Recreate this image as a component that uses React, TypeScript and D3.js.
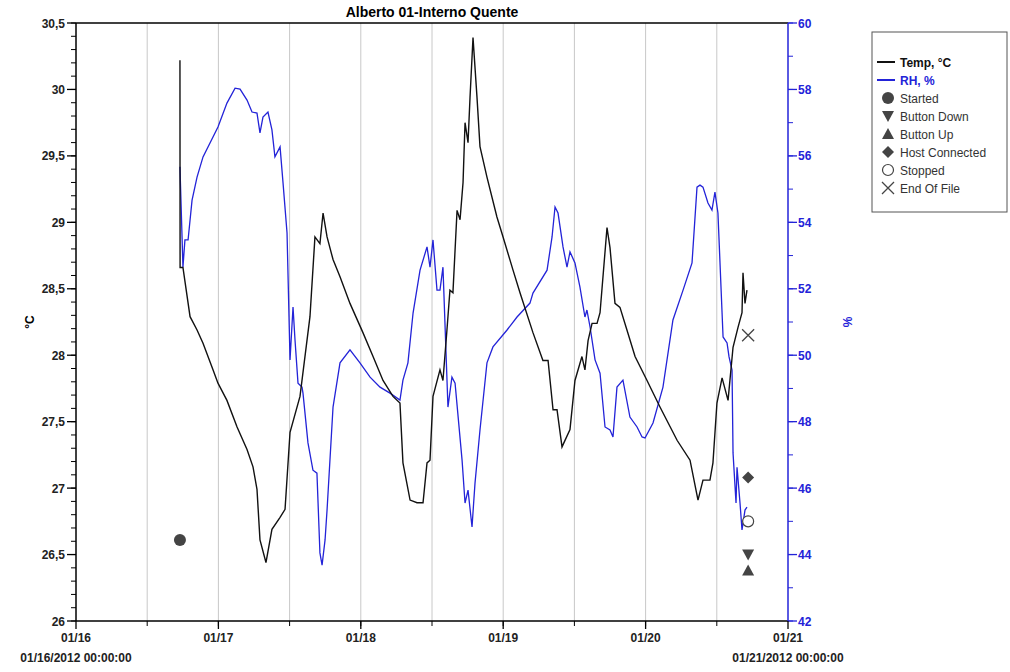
import React from "react";
import { scaleLinear, line, range } from "d3";

// time in days since 01/16/2012 00:00
const tempDays = [0.73, 0.731, 0.751, 0.801, 0.85, 0.892, 0.962, 0.997, 1.06, 1.131, 1.201, 1.243, 1.271, 1.292, 1.334, 1.376, 1.433, 1.468, 1.503, 1.573, 1.643, 1.678, 1.713, 1.735, 1.763, 1.805, 1.854, 1.924, 2.015, 2.086, 2.156, 2.226, 2.275, 2.296, 2.346, 2.395, 2.437, 2.465, 2.486, 2.507, 2.556, 2.577, 2.605, 2.626, 2.647, 2.676, 2.697, 2.718, 2.732, 2.753, 2.767, 2.788, 2.816, 2.837, 2.886, 2.956, 2.999, 3.069, 3.118, 3.209, 3.279, 3.315, 3.35, 3.378, 3.413, 3.469, 3.504, 3.553, 3.574, 3.596, 3.624, 3.659, 3.68, 3.729, 3.75, 3.785, 3.82, 3.869, 3.926, 4.01, 4.101, 4.221, 4.312, 4.368, 4.403, 4.452, 4.473, 4.501, 4.537, 4.579, 4.614, 4.649, 4.677, 4.684, 4.698, 4.712];
const tempValues = [30.22, 28.66, 28.66, 28.29, 28.19, 28.09, 27.89, 27.79, 27.66, 27.46, 27.29, 27.16, 26.99, 26.61, 26.44, 26.69, 26.78, 26.84, 27.42, 27.69, 28.29, 28.89, 28.84, 29.07, 28.89, 28.72, 28.59, 28.39, 28.17, 27.99, 27.81, 27.69, 27.64, 27.19, 26.91, 26.89, 26.89, 27.19, 27.21, 27.69, 27.89, 27.81, 28.19, 28.49, 28.47, 29.09, 29.02, 29.3, 29.75, 29.6, 29.94, 30.39, 29.94, 29.57, 29.34, 29.04, 28.89, 28.64, 28.47, 28.17, 27.96, 27.96, 27.59, 27.59, 27.31, 27.44, 27.81, 27.99, 27.89, 28.11, 28.24, 28.24, 28.32, 28.96, 28.81, 28.39, 28.36, 28.19, 27.99, 27.81, 27.61, 27.36, 27.21, 26.91, 27.06, 27.06, 27.19, 27.64, 27.83, 27.66, 28.06, 28.21, 28.32, 28.62, 28.39, 28.49];

const rhDays = [0.73, 0.751, 0.765, 0.787, 0.815, 0.85, 0.892, 0.962, 0.997, 1.06, 1.117, 1.152, 1.201, 1.236, 1.271, 1.292, 1.313, 1.348, 1.376, 1.397, 1.433, 1.454, 1.482, 1.503, 1.524, 1.538, 1.559, 1.587, 1.594, 1.629, 1.664, 1.692, 1.713, 1.728, 1.749, 1.763, 1.805, 1.854, 1.924, 1.994, 2.065, 2.135, 2.205, 2.275, 2.296, 2.331, 2.367, 2.416, 2.465, 2.486, 2.507, 2.535, 2.556, 2.577, 2.612, 2.64, 2.662, 2.711, 2.732, 2.753, 2.781, 2.802, 2.837, 2.886, 2.928, 3.027, 3.097, 3.188, 3.209, 3.308, 3.343, 3.364, 3.385, 3.42, 3.448, 3.469, 3.504, 3.539, 3.574, 3.588, 3.61, 3.645, 3.68, 3.715, 3.75, 3.771, 3.799, 3.841, 3.89, 3.94, 3.975, 3.996, 4.052, 4.122, 4.192, 4.263, 4.326, 4.361, 4.382, 4.403, 4.438, 4.466, 4.487, 4.508, 4.544, 4.572, 4.586, 4.607, 4.614, 4.635, 4.642, 4.663, 4.677, 4.698, 4.712];
const rhValues = [55.67, 52.65, 53.47, 53.47, 54.67, 55.36, 55.97, 56.57, 56.87, 57.59, 58.04, 58.01, 57.68, 57.32, 57.29, 56.69, 57.17, 57.32, 56.78, 55.97, 56.27, 55.18, 53.68, 49.86, 51.45, 50.46, 49.16, 49.04, 48.86, 47.36, 46.54, 46.45, 44.05, 43.68, 44.44, 45.34, 48.44, 49.77, 50.16, 49.77, 49.34, 49.04, 48.86, 48.65, 49.25, 49.77, 51.27, 52.56, 53.26, 52.65, 53.47, 51.96, 51.96, 52.65, 48.44, 49.34, 49.16, 46.85, 45.55, 45.94, 44.83, 46.15, 47.75, 49.77, 50.25, 50.76, 51.15, 51.57, 51.87, 52.56, 53.56, 54.46, 54.28, 53.26, 52.65, 53.11, 52.78, 52.05, 51.15, 51.36, 50.85, 49.86, 49.46, 47.84, 47.75, 47.54, 49.04, 49.25, 48.14, 47.84, 47.54, 47.51, 47.96, 49.04, 51.06, 51.96, 52.78, 55.06, 55.12, 55.06, 54.58, 54.37, 54.91, 54.28, 50.55, 50.37, 49.95, 49.55, 47.06, 45.55, 46.63, 45.55, 44.74, 45.34, 45.43];

// event markers (day, temp-axis value)
const eventNames = ["Started", "Button Down", "Button Up", "Host Connected", "Stopped", "End Of File"];
const eventDays = [0.73, 4.72, 4.72, 4.72, 4.72, 4.72];
const eventValues = [26.61, 26.5, 26.38, 27.08, 26.75, 28.15];

const dayLabels = ["01/16", "01/17", "01/18", "01/19", "01/20", "01/21"];
const tempTicks = [26, 26.5, 27, 27.5, 28, 28.5, 29, 29.5, 30, 30.5];
const rhTicks = [42, 44, 46, 48, 50, 52, 54, 56, 58, 60];

const W = 1010;
const H = 672;
const margin = { left: 76, right: 222, top: 23, bottom: 51 };
const BLUE = "#2323d8";
const GREY = "#444";
const FONT = "'Liberation Sans', Arial, sans-serif";

const fmt = (v: number) => String(v).replace(".", ",");

const Marker = ({ kind, x, y }: { kind: string; x: number; y: number }) => {
  if (kind === "Started") return <circle cx={x} cy={y} r={6} fill={GREY} />;
  if (kind === "Stopped") return <circle cx={x} cy={y} r={5.5} fill="#fff" stroke={GREY} strokeWidth={1.2} />;
  if (kind === "Button Down")
    return <path d={`M${x - 6},${y - 5}L${x + 6},${y - 5}L${x},${y + 6}Z`} fill={GREY} />;
  if (kind === "Button Up")
    return <path d={`M${x - 6},${y + 5}L${x + 6},${y + 5}L${x},${y - 6}Z`} fill={GREY} />;
  if (kind === "Host Connected")
    return <path d={`M${x},${y - 6}L${x + 6},${y}L${x},${y + 6}L${x - 6},${y}Z`} fill={GREY} />;
  return (
    <path d={`M${x - 6},${y - 6}L${x + 6},${y + 6}M${x + 6},${y - 6}L${x - 6},${y + 6}`} stroke={GREY} strokeWidth={1.3} fill="none" />
  );
};

const App = () => {
  const x = scaleLinear().domain([0, 5]).range([margin.left, W - margin.right]);
  const yT = scaleLinear().domain([26, 30.5]).range([H - margin.bottom, margin.top]);
  const yR = scaleLinear().domain([42, 60]).range([H - margin.bottom, margin.top]);
  const [x0, x1] = x.range();
  const [yb, yt] = yT.range();

  const tempLine = line<number>()
    .x((d, i) => x(tempDays[i]))
    .y((d) => yT(d));
  const rhLine = line<number>()
    .x((d, i) => x(rhDays[i]))
    .y((d) => yR(d));

  const halfDays = range(1, 10).map((i) => i / 2);
  const tempMinor = range(0, 46).map((i) => 26 + i * 0.1);
  const rhMinor = range(42, 61);

  const legendItems = ["Temp, °C", "RH, %", ...eventNames];

  return (
    <svg
      width={W}
      height={H}
      style={{ position: "absolute", left: 0, top: 0, background: "#fff", fontFamily: FONT }}
    >
      <text x={(x0 + x1) / 2} y={17} textAnchor="middle" fontSize={14} fontWeight="bold">
        Alberto 01-Interno Quente
      </text>

      {/* vertical grid every 12 hours */}
      {halfDays.map((d) => (
        <line key={d} x1={x(d)} x2={x(d)} y1={yt} y2={yb} stroke="#c8c8c8" strokeWidth={1} />
      ))}

      <path d={rhLine(rhValues) || ""} fill="none" stroke={BLUE} strokeWidth={1.3} />
      <path d={tempLine(tempValues) || ""} fill="none" stroke="#111" strokeWidth={1.4} />

      {eventNames.map((n, i) => (
        <Marker key={n} kind={n} x={x(eventDays[i])} y={yT(eventValues[i])} />
      ))}

      {/* frame */}
      <line x1={x0} x2={x1} y1={yt} y2={yt} stroke="#000" strokeWidth={1.5} />
      <line x1={x0} x2={x1} y1={yb} y2={yb} stroke="#000" strokeWidth={1.5} />
      <line x1={x0} x2={x0} y1={yt} y2={yb} stroke="#000" strokeWidth={1.5} />
      <line x1={x1} x2={x1} y1={yt} y2={yb} stroke={BLUE} strokeWidth={1.5} />

      {/* left axis */}
      {tempMinor.map((v) => (
        <line key={v} x1={x0 - 5} x2={x0} y1={yT(v)} y2={yT(v)} stroke="#000" />
      ))}
      {tempTicks.map((v) => (
        <g key={v}>
          <line x1={x0 - 9} x2={x0} y1={yT(v)} y2={yT(v)} stroke="#000" strokeWidth={1.3} />
          <text x={x0 - 11} y={yT(v) + 4.5} textAnchor="end" fontSize={12} fontWeight="bold" fill="#222">
            {fmt(v)}
          </text>
        </g>
      ))}
      <text transform={`translate(34,${(yt + yb) / 2}) rotate(-90)`} textAnchor="middle" fontSize={12} fontWeight="bold">
        °C
      </text>

      {/* right axis */}
      {rhMinor.map((v) => (
        <line key={v} x1={x1} x2={x1 + 5} y1={yR(v)} y2={yR(v)} stroke={BLUE} />
      ))}
      {rhTicks.map((v) => (
        <g key={v}>
          <line x1={x1} x2={x1 + 9} y1={yR(v)} y2={yR(v)} stroke={BLUE} strokeWidth={1.3} />
          <text x={x1 + 10} y={yR(v) + 4.5} fontSize={12} fontWeight="bold" fill={BLUE}>
            {v}
          </text>
        </g>
      ))}
      <text transform={`translate(852,${(yt + yb) / 2}) rotate(-90)`} textAnchor="middle" fontSize={12} fontWeight="bold" fill={BLUE}>
        %
      </text>

      {/* bottom axis */}
      {halfDays.map((d) => (
        <line key={d} x1={x(d)} x2={x(d)} y1={yb} y2={yb + 5} stroke="#000" />
      ))}
      {dayLabels.map((lab, i) => (
        <g key={lab}>
          <line x1={x(i)} x2={x(i)} y1={yb} y2={yb + 8} stroke="#000" strokeWidth={1.3} />
          <text x={x(i)} y={yb + 21} textAnchor="middle" fontSize={12} fontWeight="bold" fill="#222">
            {lab}
          </text>
        </g>
      ))}
      <text x={x(0)} y={yb + 41} textAnchor="middle" fontSize={12} fontWeight="bold" fill="#222">
        01/16/2012 00:00:00
      </text>
      <text x={x(5)} y={yb + 41} textAnchor="middle" fontSize={12} fontWeight="bold" fill="#222">
        01/21/2012 00:00:00
      </text>

      {/* legend */}
      <rect x={872} y={32} width={135} height={180} fill="#fff" stroke="#555" strokeWidth={1} />
      {legendItems.map((lab, i) => {
        const ly = 62 + i * 18;
        return (
          <g key={lab}>
            {i === 0 && <line x1={877} x2={895} y1={ly} y2={ly} stroke="#111" strokeWidth={2} />}
            {i === 1 && <line x1={877} x2={895} y1={ly} y2={ly} stroke={BLUE} strokeWidth={2} />}
            {i > 1 && <Marker kind={lab} x={888} y={ly} />}
            <text
              x={900}
              y={ly + 4.5}
              fontSize={12}
              fontWeight={i < 2 ? "bold" : "normal"}
              fill={i === 1 ? BLUE : i === 0 ? "#111" : "#333"}
            >
              {lab}
            </text>
          </g>
        );
      })}
    </svg>
  );
};

export default App;
